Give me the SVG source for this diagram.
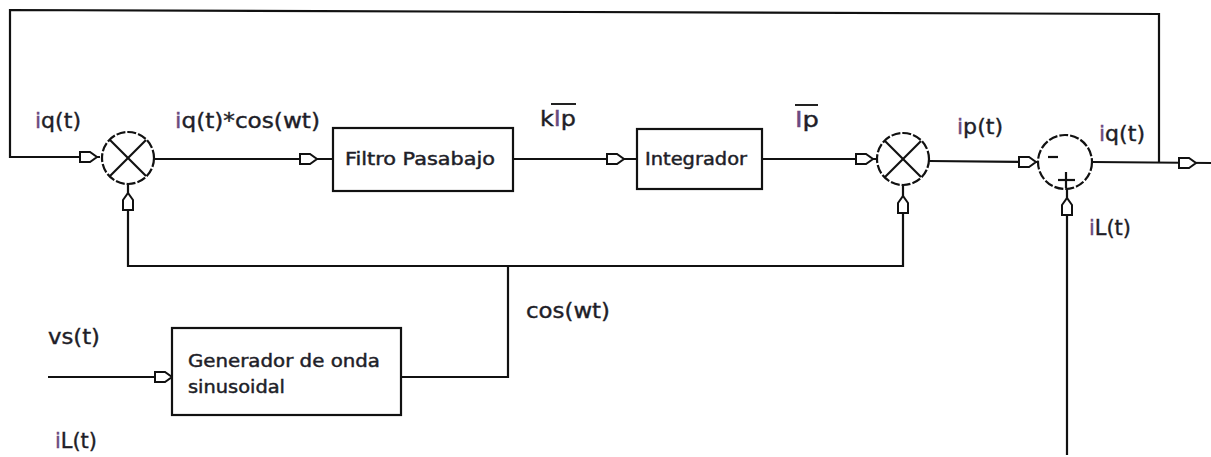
<svg xmlns="http://www.w3.org/2000/svg" width="1211" height="457" viewBox="0 0 1211 457">
  <style>
    .ln { fill: none; stroke: #111; stroke-width: 2.2; }
    .box { fill: #fff; stroke: #111; stroke-width: 2.2; }
    .sum { fill: #fff; stroke: #111; stroke-width: 2.2; stroke-dasharray: 9 2; }
    .arr { fill: #fff; stroke: #111; stroke-width: 2; }
    .lbl { font-family: "DejaVu Sans", "Liberation Sans", sans-serif; font-size: 21px; fill: #1e1e28; stroke: #1e1e28; stroke-width: 0.4; }
    .btx { font-family: "DejaVu Sans", "Liberation Sans", sans-serif; font-size: 17px; fill: #1e1e28; stroke: #1e1e28; stroke-width: 0.45; }
    .pi { fill: #6b4a80; stroke: #6b4a80; }
  </style>
  <defs>
    <path id="arr" d="M-17,-5 L-7,-5 L0,0 L-7,5 L-17,5 Z"/>
  </defs>
  <rect width="1211" height="457" fill="#fff"/>

  <g id="connectors">
    <!-- outer feedback loop on top -->
    <polyline class="ln" points="1159,162 1159,14 10,10 10,157 100,157"/>
    <!-- forward path -->
    <line class="ln" x1="155" y1="159" x2="333" y2="159"/>
    <line class="ln" x1="513" y1="159" x2="637" y2="159"/>
    <line class="ln" x1="762" y1="159" x2="876" y2="159"/>
    <line class="ln" x1="929" y1="161" x2="1038" y2="162"/>
    <line class="ln" x1="1093" y1="162" x2="1211" y2="163"/>
    <!-- cos(wt) distribution -->
    <polyline class="ln" points="128,184 128,266 903,266 903,185"/>
    <polyline class="ln" points="401,377 508,377 508,266"/>
    <!-- vs(t) input -->
    <line class="ln" x1="48" y1="377" x2="172" y2="377"/>
    <!-- iL(t) input -->
    <line class="ln" x1="1067" y1="455" x2="1067" y2="188"/>
    <!-- arrowheads -->
    <use href="#arr" class="arr" transform="translate(97,157)"/>
    <use href="#arr" class="arr" transform="translate(317,159)"/>
    <use href="#arr" class="arr" transform="translate(624,159)"/>
    <use href="#arr" class="arr" transform="translate(873,159)"/>
    <use href="#arr" class="arr" transform="translate(1036,162)"/>
    <use href="#arr" class="arr" transform="translate(1196,163)"/>
    <use href="#arr" class="arr" transform="translate(172,377)"/>
    <use href="#arr" class="arr" transform="translate(128,193) rotate(-90)"/>
    <use href="#arr" class="arr" transform="translate(903,196) rotate(-90)"/>
    <use href="#arr" class="arr" transform="translate(1067,198) rotate(-90)"/>
  </g>

  <g id="mult1">
    <circle class="sum" cx="128" cy="158" r="26"/>
    <line class="ln" x1="110" y1="140" x2="146" y2="176"/>
    <line class="ln" x1="146" y1="140" x2="110" y2="176"/>
  </g>

  <g id="filtro">
    <rect class="box" x="333" y="128" width="180" height="63"/>
    <text class="btx" x="345" y="165" textLength="150" lengthAdjust="spacingAndGlyphs">Filtro Pasabajo</text>
  </g>

  <g id="integrador">
    <rect class="box" x="637" y="129" width="125" height="60"/>
    <text class="btx" x="645" y="165" textLength="102" lengthAdjust="spacingAndGlyphs">Integrador</text>
  </g>

  <g id="mult2">
    <circle class="sum" cx="903" cy="159" r="26"/>
    <line class="ln" x1="885" y1="141" x2="921" y2="177"/>
    <line class="ln" x1="921" y1="141" x2="885" y2="177"/>
  </g>

  <g id="restador">
    <circle class="sum" cx="1065" cy="162" r="27"/>
    <line class="ln" x1="1048" y1="157" x2="1058" y2="157"/>
    <line class="ln" x1="1058" y1="180" x2="1075" y2="180"/>
    <line class="ln" x1="1066" y1="172" x2="1066" y2="188"/>
  </g>

  <g id="generador">
    <rect class="box" x="172" y="328" width="229" height="87"/>
    <text class="btx" x="188" y="367" textLength="192" lengthAdjust="spacingAndGlyphs">Generador de onda</text>
    <text class="btx" x="188" y="393" textLength="97" lengthAdjust="spacingAndGlyphs">sinusoidal</text>
  </g>

  <g id="labels">
    <text class="lbl" x="35" y="128" textLength="46" lengthAdjust="spacingAndGlyphs"><tspan class="pi">i</tspan>q(t)</text>
    <text class="lbl" x="175" y="128" textLength="145" lengthAdjust="spacingAndGlyphs"><tspan class="pi">i</tspan>q(t)*cos(wt)</text>
    <text class="lbl" x="540" y="126" textLength="36" lengthAdjust="spacingAndGlyphs">k<tspan class="pi">I</tspan>p</text>
    <line x1="551" y1="104" x2="576" y2="104" stroke="#222" stroke-width="2"/>
    <text class="lbl" x="795" y="127" textLength="24" lengthAdjust="spacingAndGlyphs"><tspan class="pi">I</tspan>p</text>
    <line x1="795" y1="105" x2="818" y2="105" stroke="#222" stroke-width="2"/>
    <text class="lbl" x="957" y="134" textLength="46" lengthAdjust="spacingAndGlyphs"><tspan class="pi">i</tspan>p(t)</text>
    <text class="lbl" x="1099" y="141" textLength="46" lengthAdjust="spacingAndGlyphs"><tspan class="pi">i</tspan>q(t)</text>
    <text class="lbl" x="1089" y="235" textLength="42" lengthAdjust="spacingAndGlyphs"><tspan class="pi">i</tspan>L(t)</text>
    <text class="lbl" x="526" y="318" textLength="84" lengthAdjust="spacingAndGlyphs">cos(wt)</text>
    <text class="lbl" x="48" y="344" textLength="52" lengthAdjust="spacingAndGlyphs">vs(t)</text>
    <text class="lbl" x="55" y="448" textLength="42" lengthAdjust="spacingAndGlyphs"><tspan class="pi">i</tspan>L(t)</text>
  </g>
</svg>
